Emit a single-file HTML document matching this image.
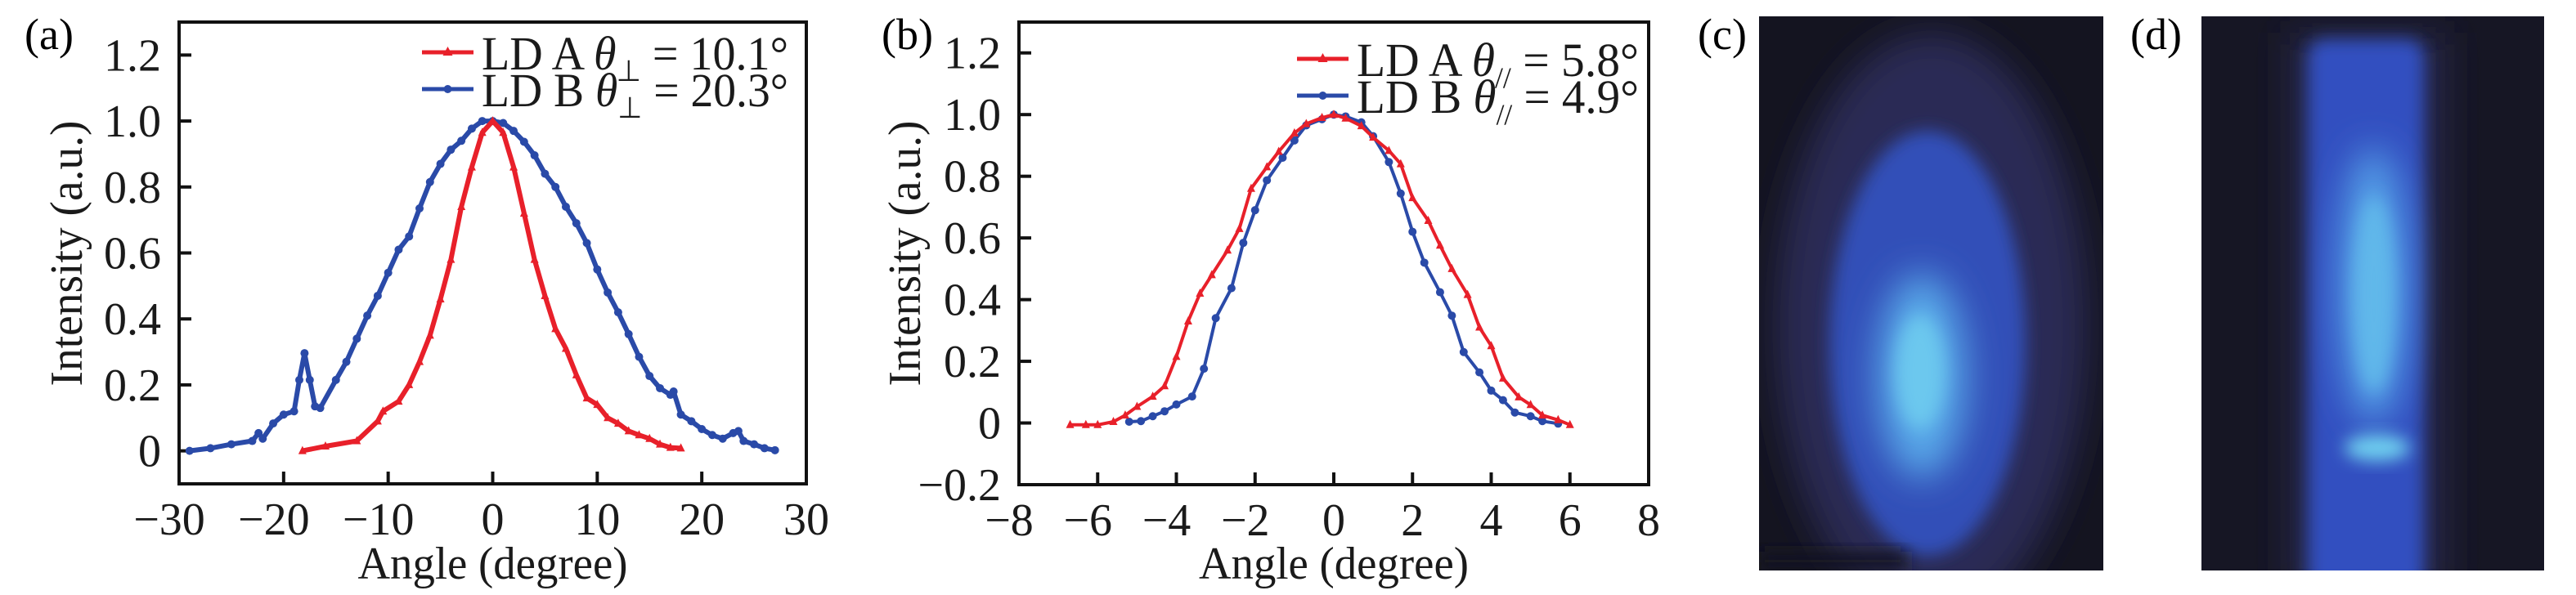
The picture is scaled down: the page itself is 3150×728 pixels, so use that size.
<!DOCTYPE html>
<html><head><meta charset="utf-8"><style>
html,body{margin:0;padding:0;background:#fff;}
svg{display:block;font-family:"Liberation Serif",serif;}
</style></head><body>
<svg id="fig" width="3150" height="728" viewBox="0 0 3150 728">
<defs>
<filter id="blur8" x="-50%" y="-50%" width="200%" height="200%"><feGaussianBlur stdDeviation="10"/></filter>
<filter id="blur20" x="-50%" y="-50%" width="200%" height="200%"><feGaussianBlur stdDeviation="22"/></filter>
<clipPath id="clipc"><rect x="2151" y="20" width="421" height="678"/></clipPath>
<clipPath id="clipd"><rect x="2692" y="20" width="419" height="678"/></clipPath>
</defs>
<g id="panelA"></g>
<g id="panelB"></g>

<text x="30" y="60" font-size="54">(a)</text>
<text x="1078" y="60" font-size="54">(b)</text>
<text x="2076" y="60" font-size="54">(c)</text>
<text x="2605" y="60" font-size="54">(d)</text>

<g clip-path="url(#clipc)">
<rect x="2151" y="20" width="421" height="678" fill="#141420"/>
<ellipse cx="2362" cy="400" rx="190" ry="360" fill="#2a2a55" filter="url(#blur20)"/>
<ellipse cx="2357" cy="420" rx="120" ry="260" fill="#3350b8" filter="url(#blur8)"/>
<ellipse cx="2350" cy="460" rx="55" ry="125" fill="#58a8e8" filter="url(#blur20)"/>
<ellipse cx="2348" cy="455" rx="30" ry="70" fill="#6cc8ee" filter="url(#blur8)"/>
<rect x="2151" y="675" width="180" height="23" fill="#141420" filter="url(#blur8)"/>
</g>
<g clip-path="url(#clipd)">
<rect x="2692" y="20" width="419" height="678" fill="#161624"/>
<rect x="2800" y="40" width="190" height="680" fill="#26264a" filter="url(#blur20)"/>
<rect x="2822" y="48" width="142" height="680" rx="20" fill="#3350c0" filter="url(#blur8)"/>
<ellipse cx="2902" cy="350" rx="42" ry="170" fill="#55a0e8" filter="url(#blur20)"/>
<ellipse cx="2903" cy="360" rx="25" ry="120" fill="#60b8ea" filter="url(#blur8)"/>
<ellipse cx="2907" cy="548" rx="40" ry="16" fill="#70d0f0" filter="url(#blur8)"/>
</g>
</svg>
<script>
// ---------- Panel (a) data ----------
const aRedX = [-18.2,-16,-13,-11,-10.5,-9,-8,-7,-6,-5,-4,-3,-2,-1,0,1,2,3,4,5,6,7,8,9,10,11,12,13,14,15,16,17,18];
const aRedY = [0,0.014,0.03,0.09,0.12,0.15,0.2,0.27,0.35,0.46,0.58,0.74,0.86,0.965,1.0,0.965,0.86,0.72,0.58,0.47,0.37,0.31,0.23,0.16,0.14,0.1,0.083,0.06,0.048,0.037,0.02,0.01,0.008];
const aBlueX = [-29,-27,-25,-23,-22.4,-22,-21,-20,-19,-18.5,-18,-17.5,-17,-16.5,-15,-14,-13,-12,-11,-10,-9,-8,-7,-6,-5,-4,-3,-2,-1,0,1,2,3,4,5,6,7,8,9,10,11,12,13,14,15,16,17,17.3,18,19,20,21,22,23,23.5,24,25,26,27];
const aBlueY = [0,0.008,0.02,0.03,0.054,0.037,0.083,0.11,0.12,0.215,0.296,0.215,0.135,0.13,0.215,0.27,0.34,0.41,0.47,0.54,0.61,0.65,0.735,0.815,0.87,0.913,0.94,0.977,1.0,1.0,0.994,0.97,0.937,0.896,0.84,0.8,0.74,0.69,0.63,0.55,0.48,0.42,0.354,0.285,0.227,0.19,0.17,0.18,0.11,0.09,0.066,0.048,0.037,0.054,0.06,0.03,0.02,0.008,0.002];
const aXTicks = [-20,-10,0,10,20];
const aXLabels = ["\u221230","\u221220","\u221210","0","10","20","30"];
const aYTicks = [0,0.2,0.4,0.6,0.8,1.0,1.2];
const aYLabels = ["0","0.2","0.4","0.6","0.8","1.0","1.2"];
// ---------- Panel (b) data ----------
const bRedX = [-6.7,-6.3,-6,-5.6,-5.3,-5,-4.6,-4.3,-4,-3.7,-3.4,-3.1,-2.7,-2.4,-2.1,-1.7,-1.4,-1.0,-0.7,-0.3,0,0.3,0.7,1.0,1.4,1.7,2.0,2.4,2.7,3.0,3.4,3.7,4.0,4.3,4.7,5.0,5.3,5.7,6.0];
const bRedY = [-0.006,-0.006,-0.006,0.004,0.025,0.053,0.086,0.12,0.215,0.33,0.42,0.48,0.56,0.63,0.76,0.83,0.88,0.94,0.97,0.99,1.0,0.988,0.963,0.926,0.883,0.84,0.73,0.656,0.576,0.5,0.416,0.31,0.25,0.145,0.084,0.059,0.025,0.01,-0.006];
const bBlueX = [-5.2,-4.9,-4.6,-4.3,-4.0,-3.6,-3.3,-3.0,-2.6,-2.3,-2.0,-1.7,-1.3,-1.0,-0.7,-0.3,0,0.3,0.7,1.0,1.4,1.7,2.0,2.3,2.7,3.0,3.3,3.7,4.0,4.3,4.6,5.0,5.3,5.7];
const bBlueY = [0.004,0.006,0.022,0.038,0.06,0.086,0.176,0.34,0.437,0.584,0.69,0.787,0.86,0.916,0.965,0.985,1.0,0.994,0.975,0.93,0.846,0.744,0.62,0.52,0.424,0.348,0.23,0.164,0.105,0.074,0.034,0.022,0.006,-0.002];
const bXTicks = [-6,-4,-2,0,2,4,6];
const bXLabels = ["\u22128","\u22126","\u22124","\u22122","0","2","4","6","8"];
const bYTicks = [-0.2,0,0.2,0.4,0.6,0.8,1.0,1.2];
const bYLabels = ["\u22120.2","0","0.2","0.4","0.6","0.8","1.0","1.2"];

const NS = "http://www.w3.org/2000/svg";
function mk(parent, tag, attrs){
  const e = document.createElementNS(NS, tag);
  for (const k in attrs) e.setAttribute(k, attrs[k]);
  parent.appendChild(e); return e;
}
const RED = "#e8202a", BLUE = "#2a4aa8";

function drawPanel(g, cfg){
  const sx = v => cfg.L + (v - cfg.xmin) / (cfg.xmax - cfg.xmin) * (cfg.R - cfg.L);
  const sy = v => cfg.B - (v - cfg.ymin) / (cfg.ymax - cfg.ymin) * (cfg.B - cfg.T);
  const fr = mk(g, "rect", {x:cfg.L, y:cfg.T, width:cfg.R-cfg.L, height:cfg.B-cfg.T, fill:"none", stroke:"#111", "stroke-width":4});
  
  
  cfg.xTicks.forEach(t => {
    const l = mk(g, "line", {x1:sx(t), x2:sx(t), y1:cfg.B, y2:cfg.B-15, stroke:"#111", "stroke-width":4});
    
    
  });
  cfg.xLabels.forEach((s, i) => {
    const v = cfg.xmin + i * cfg.xStep;
    const t = mk(g, "text", {x:sx(v) - (s.startsWith("\u2212") ? 12 : 0), y:cfg.B+62, "font-size":56, "text-anchor":"middle", fill:"#1a1a1a"});
    t.textContent = s;
    
    
  });
  cfg.yTicks.forEach((v, i) => {
    const l = mk(g, "line", {x1:cfg.L, x2:cfg.L+15, y1:sy(v), y2:sy(v), stroke:"#111", "stroke-width":4});
    
    
    const t = mk(g, "text", {x:cfg.L-22, y:sy(v)+19, "font-size":56, "text-anchor":"end", fill:"#1a1a1a"});
    t.textContent = cfg.yLabels[i];
    
    
  });
  const xt = mk(g, "text", {x:(cfg.L+cfg.R)/2, y:708, "font-size":56, "text-anchor":"middle", fill:"#1a1a1a", textLength:330, lengthAdjust:"spacingAndGlyphs"});
  xt.textContent = "Angle (degree)";
  
  
  const yt = mk(g, "text", {x:0, y:0, "font-size":56, "text-anchor":"middle", fill:"#1a1a1a", transform:`translate(${cfg.ytX},310) rotate(-90)`, textLength:325, lengthAdjust:"spacingAndGlyphs"});
  yt.textContent = "Intensity (a.u.)";
  
  

  function series(xs, ys, color, marker, name){
    const pts = xs.map((x, i) => sx(x).toFixed(1) + "," + sy(ys[i]).toFixed(1)).join(" ");
    const pl = mk(g, "polyline", {points:pts, fill:"none", stroke:color, "stroke-width":cfg.sw, "stroke-linejoin":"round"});
    
    
    xs.forEach((x, i) => {
      const cx = sx(x), cy = sy(ys[i]);
      let m;
      if (marker === "tri") m = mk(g, "polygon", {points:`${cx},${cy-cfg.ms-1} ${cx-cfg.ms},${cy+cfg.ms-1} ${cx+cfg.ms},${cy+cfg.ms-1}`, fill:color});
      else m = mk(g, "circle", {cx:cx, cy:cy, r:cfg.ms, fill:color});
      
      
    });
  }
  series(cfg.blueX, cfg.blueY, BLUE, "dot", "ld-b");
  series(cfg.redX, cfg.redY, RED, "tri", "ld-a");
  const lg = mk(g, "g", {});
  
  
  cfg.legend.forEach((en, i) => {
    const y = cfg.legY[i];
    const e = mk(lg, "g", {});
    
    
    mk(e, "line", {x1:cfg.legX1, x2:cfg.legX2, y1:y, y2:y, stroke:en.color, "stroke-width":5});
    const mx = (cfg.legX1 + cfg.legX2) / 2;
    if (en.tri) mk(e, "polygon", {points:`${mx},${y-7} ${mx-6},${y+4} ${mx+6},${y+4}`, fill:en.color});
    else mk(e, "circle", {cx:mx, cy:y, r:5, fill:en.color});
    const t = mk(e, "text", {x:cfg.legX2+10, y:y+21, "font-size":58, fill:"#1a1a1a", textLength:cfg.legW, lengthAdjust:"spacingAndGlyphs"});
    t.innerHTML = en.pre + '<tspan font-style="italic">\u03b8</tspan><tspan font-size="36" dy="14">' + en.sub + '</tspan><tspan dy="-14"> = ' + en.val + '</tspan>';
  });
}

drawPanel(document.getElementById("panelA"), {
  L:219, R:986, T:27, B:592, xmin:-30, xmax:30, ymin:-0.1, ymax:1.3, xStep:10,
  xTicks:aXTicks, xLabels:aXLabels, yTicks:aYTicks, yLabels:aYLabels, ytX:100, sw:6, ms:5,
  redX:aRedX, redY:aRedY, blueX:aBlueX, blueY:aBlueY,
  legX1:516, legX2:579, legY:[64,109], legW:375,
  legend:[{color:RED, tri:true, pre:"LD A ", sub:"\u22a5", val:"10.1\u00b0"},
          {color:BLUE, tri:false, pre:"LD B ", sub:"\u22a5", val:"20.3\u00b0"}]
});
drawPanel(document.getElementById("panelB"), {
  L:1246, R:2016, T:27, B:593, xmin:-8, xmax:8, ymin:-0.2, ymax:1.3, xStep:2,
  xTicks:bXTicks, xLabels:bXLabels, yTicks:bYTicks, yLabels:bYLabels, ytX:1125, sw:4, ms:5,
  redX:bRedX, redY:bRedY, blueX:bBlueX, blueY:bBlueY,
  legX1:1586, legX2:1649, legY:[72,117], legW:345,
  legend:[{color:RED, tri:true, pre:"LD A ", sub:"//", val:"5.8\u00b0"},
          {color:BLUE, tri:false, pre:"LD B ", sub:"//", val:"4.9\u00b0"}]
});
</script>
</body></html>
